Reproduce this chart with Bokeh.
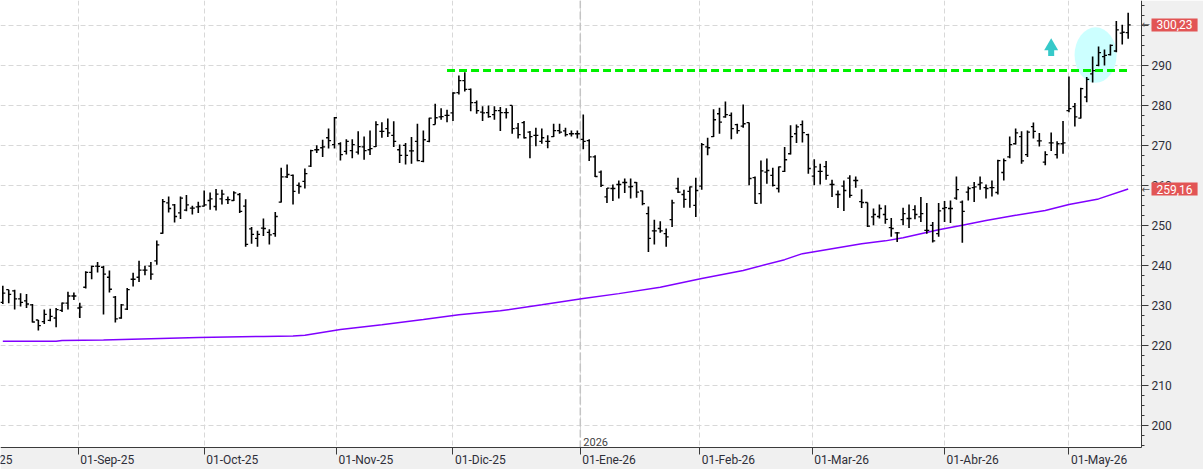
import numpy as np
import pandas as pd
from bokeh.plotting import figure
from bokeh.models import (FixedTicker, SingleIntervalTicker, Range1d, Label, Span,
                          ColumnDataSource, CustomJSTickFormatter, BoxAnnotation)
from bokeh.embed import file_html
from bokeh.resources import INLINE

# ---------------- data ----------------
holidays = ["2025-09-01", "2025-11-27", "2025-12-25", "2026-01-01",
            "2026-01-19", "2026-02-16", "2026-04-03"]
calendar_start = "2025-08-01"
first_date = "2025-08-13"
last_date = "2026-05-15"

opens = [230.8, 234.0, 233.7, 231.7, 231.2, 230.2, 226.4, 226.0, 226.3, 226.9,
         228.8, 230.6, 232.4, 229.4, 234.6, 238.3, 239.9, 239.6, 237.1, 232.1,
         226.9, 229.1, 236.6, 237.1, 238.9, 239.9, 241.2, 248.1, 255.7, 255.2,
         253.2, 253.9, 254.4, 254.7, 254.9, 256.3, 254.8, 256.7, 256.5, 256.3,
         257.8, 254.9, 249.2, 246.8, 249.4, 248.3, 248.0, 255.9, 262.2, 262.6,
         260.1, 261.1, 264.9, 269.0, 269.5, 272.0, 270.3, 270.5, 268.6, 268.8,
         268.4, 269.7, 269.0, 269.8, 273.6, 274.3, 272.6, 269.0, 270.1, 268.7,
         271.1, 266.1, 271.1, 275.3, 277.2, 277.6, 278.2, 283.3, 286.3, 284.1,
         280.8, 278.4, 278.3, 277.8, 278.8, 278.3, 280.1, 274.4, 275.8, 273.4,
         272.6, 271.1, 271.1, 272.3, 273.8, 273.7, 273.0, 273.0, 271.6, 271.3,
         267.2, 263.4, 257.2, 259.3, 260.3, 260.8, 259.7, 260.8, 258.7, 253.0,
         248.7, 249.3, 248.0, 251.5, 259.3, 257.8, 258.6, 255.1, 259.9, 269.7,
         272.3, 278.0, 277.2, 277.6, 275.3, 274.9, 275.8, 262.0, 258.0, 263.4,
         262.6, 259.3, 263.6, 268.0, 273.0, 275.3, 272.8, 262.4, 263.6, 264.8,
         260.3, 257.8, 259.9, 261.9, 261.3, 256.0, 255.8, 252.2, 252.3, 252.8,
         249.5, 248.2, 251.5, 251.8, 254.0, 252.2, 248.8, 250.1, 248.0, 254.3,
         254.3, 256.9, 255.9, 258.4, 259.5, 260.3, 259.5, 259.5, 258.3, 263.3,
         267.2, 270.5, 272.3, 267.8, 274.8, 271.2, 265.9, 270.7, 267.8, 270.5,
         278.8, 279.8, 276.9, 282.2, 288.0, 290.1, 292.3, 292.8, 293.7, 298.2, 298.3]

highs = [235.0, 234.0, 234.0, 233.1, 232.9, 230.4, 226.4, 229.0, 229.2, 229.4,
         230.8, 233.5, 233.3, 230.7, 238.6, 240.0, 240.9, 240.0, 238.8, 232.4,
         230.4, 234.4, 238.2, 241.2, 240.0, 240.9, 246.3, 256.7, 257.3, 255.4,
         257.3, 257.7, 255.0, 256.0, 258.8, 258.3, 259.2, 259.0, 257.3, 258.6,
         258.2, 256.6, 249.7, 248.7, 251.8, 249.1, 253.4, 264.5, 265.3, 262.8,
         260.8, 264.3, 269.0, 270.1, 271.5, 274.3, 277.2, 270.9, 271.6, 271.6,
         273.6, 272.3, 273.8, 276.1, 275.9, 276.8, 276.1, 270.3, 270.7, 272.2,
         275.5, 273.8, 277.0, 280.5, 279.4, 279.0, 283.4, 287.6, 288.4, 284.3,
         281.3, 279.9, 280.1, 279.9, 279.7, 279.4, 280.1, 275.7, 276.2, 273.7,
         274.5, 274.3, 272.6, 275.5, 275.5, 274.5, 273.8, 273.8, 277.8, 271.6,
         267.6, 263.8, 259.4, 260.3, 261.3, 261.8, 261.8, 260.9, 258.8, 254.8,
         251.5, 251.1, 249.3, 256.5, 262.0, 259.0, 259.8, 262.0, 270.7, 272.0,
         279.1, 279.5, 281.1, 278.3, 275.5, 280.3, 275.8, 262.3, 266.3, 266.8,
         264.5, 264.8, 269.7, 275.1, 275.3, 276.3, 273.0, 266.6, 265.5, 266.2,
         261.5, 258.8, 261.3, 262.6, 262.3, 259.1, 255.8, 254.3, 255.3, 255.1,
         251.9, 248.4, 254.5, 255.3, 255.1, 257.2, 255.7, 250.9, 255.7, 256.2,
         256.3, 262.3, 256.3, 259.8, 260.9, 262.3, 260.3, 261.3, 266.5, 266.8,
         272.3, 274.3, 273.6, 273.8, 275.8, 273.2, 268.6, 273.3, 271.1, 276.2,
         287.3, 280.7, 284.5, 287.2, 292.3, 294.8, 294.1, 295.3, 301.2, 300.3, 303.3]

lows = [230.4, 230.6, 229.0, 229.8, 229.4, 225.8, 223.8, 225.4, 226.1, 224.6,
        228.4, 229.0, 231.4, 226.9, 234.3, 236.6, 238.3, 227.8, 233.3, 225.8,
        226.7, 228.9, 234.8, 235.9, 237.6, 236.5, 240.2, 248.0, 253.3, 250.8,
        251.7, 253.6, 252.8, 253.2, 254.8, 254.0, 253.8, 255.3, 255.4, 256.2,
        253.2, 244.7, 245.5, 244.7, 247.4, 245.3, 247.2, 255.8, 261.9, 255.3,
        258.0, 259.3, 264.7, 268.2, 267.2, 269.3, 269.3, 266.3, 267.8, 266.9,
        267.8, 266.5, 267.7, 269.7, 272.0, 272.2, 269.7, 265.7, 265.3, 265.5,
        266.1, 265.9, 270.9, 275.3, 276.5, 275.9, 276.2, 282.8, 283.6, 278.6,
        278.0, 276.2, 277.0, 276.5, 273.7, 276.8, 273.0, 271.8, 271.8, 266.9,
        269.9, 270.5, 269.4, 272.2, 273.0, 272.3, 272.3, 271.8, 269.1, 266.2,
        262.2, 259.7, 255.7, 256.2, 256.8, 258.2, 256.8, 257.0, 255.1, 243.4,
        245.3, 248.2, 244.7, 249.7, 258.2, 254.5, 254.5, 252.2, 259.0, 267.6,
        272.2, 273.0, 277.0, 271.6, 273.0, 274.5, 260.1, 255.5, 255.5, 260.5,
        259.8, 258.3, 263.4, 267.8, 270.7, 270.8, 263.0, 260.1, 260.3, 261.5,
        257.2, 254.4, 253.7, 257.0, 259.5, 254.4, 249.7, 250.1, 251.8, 250.5,
        247.2, 245.9, 250.1, 249.4, 251.6, 250.9, 248.0, 245.8, 247.2, 250.9,
        250.7, 256.5, 245.7, 256.3, 255.9, 259.0, 256.8, 257.3, 257.8, 261.3,
        266.9, 270.3, 265.5, 267.2, 271.8, 269.8, 265.1, 268.7, 266.8, 268.0,
        278.4, 274.8, 276.8, 280.9, 285.8, 289.9, 290.1, 292.6, 293.4, 295.3, 296.8]

closes = [233.1, 232.8, 231.7, 230.8, 230.4, 225.9, 225.0, 227.8, 227.3, 229.0,
          230.6, 232.4, 232.4, 229.6, 238.3, 239.8, 239.8, 237.9, 234.1, 226.7,
          230.2, 234.0, 236.6, 238.9, 238.9, 237.9, 245.2, 256.0, 254.3, 252.3,
          256.9, 255.2, 254.4, 254.8, 255.2, 256.7, 257.9, 257.9, 256.5, 258.2,
          253.6, 245.3, 247.8, 247.8, 249.3, 247.7, 252.3, 262.2, 262.8, 258.6,
          259.8, 263.0, 268.8, 269.0, 269.7, 271.3, 277.0, 267.8, 271.1, 270.3,
          269.8, 268.8, 269.3, 275.3, 273.6, 273.2, 271.1, 267.6, 267.6, 268.7,
          266.3, 271.5, 276.9, 277.0, 277.3, 277.6, 283.2, 286.3, 284.1, 280.8,
          278.8, 278.2, 277.3, 278.8, 278.3, 278.3, 274.3, 272.8, 272.0, 272.3,
          272.6, 272.0, 271.1, 273.8, 273.4, 272.8, 273.0, 273.0, 271.1, 267.2,
          262.3, 260.1, 259.4, 259.3, 260.3, 260.8, 259.8, 258.4, 255.5, 246.8,
          248.7, 248.7, 247.2, 255.7, 258.4, 256.6, 259.7, 258.8, 270.3, 269.5,
          276.5, 275.9, 277.8, 274.3, 273.8, 275.5, 261.8, 255.6, 263.7, 263.8,
          260.1, 264.7, 266.5, 272.3, 274.7, 273.3, 264.3, 264.7, 263.6, 262.6,
          260.3, 257.8, 258.8, 257.6, 261.3, 255.8, 249.9, 252.8, 254.3, 251.6,
          249.3, 248.2, 253.0, 251.8, 252.8, 253.0, 248.8, 246.2, 253.7, 254.5,
          254.3, 259.0, 253.6, 259.3, 259.7, 260.7, 259.3, 259.5, 266.3, 266.3,
          270.3, 273.2, 266.2, 273.4, 273.6, 271.2, 267.8, 270.7, 270.5, 270.7,
          279.3, 277.2, 284.3, 286.6, 288.8, 293.3, 292.6, 295.1, 299.0, 298.4, 300.23]

# moving average (purple line), read at selected bars (bar number counted from first_date)
ma_bar = [0, 9, 10, 17, 25, 33, 44, 49, 51, 57,
          64, 71, 77, 84, 91, 98, 104, 111, 118, 125,
          132, 135, 139, 145, 149, 152, 155, 158, 162, 166,
          171, 176, 180, 185, 190]
ma_values = [221.1, 221.1, 221.3, 221.4, 221.7, 222.0, 222.3, 222.4, 222.6, 224.0,
             225.2, 226.5, 227.7, 228.7, 230.2, 231.8, 233.0, 234.6, 236.8, 238.8,
             241.5, 243.0, 244.0, 245.5, 246.2, 247.0, 248.0, 249.0, 250.1, 251.3,
             252.6, 253.8, 255.3, 256.7, 259.16]

tick_dates = ["2025-08-01", "2025-09-01", "2025-10-01", "2025-11-01", "2025-12-01",
              "2026-01-01", "2026-02-01", "2026-03-01", "2026-04-01", "2026-05-01"]
tick_labels = ["01-Ago-25", "01-Sep-25", "01-Oct-25", "01-Nov-25", "01-Dic-25",
               "01-Ene-26", "01-Feb-26", "01-Mar-26", "01-Abr-26", "01-May-26"]
year_date = "2026-01-01"
year_label = "2026"

resistance_level = 288.8
resistance_from = "2025-11-28"

# breakout highlight (ellipse) and signal arrow, in bar / price units
highlight_bar, highlight_price, highlight_w, highlight_h = 184.5, 292.7, 7.1, 13.9
signal_bar, signal_price = 177.0, 294.9

# ---------------- helpers ----------------
cal = pd.bdate_range(calendar_start, last_date)
cal = cal[~cal.isin(pd.to_datetime(holidays))]
i0 = cal.get_loc(pd.Timestamp(first_date))
dates = cal[i0:]
n = len(closes)
assert len(opens) == n and len(highs) == n and len(lows) == n and len(dates) == n


def date_pos(d):
    t = pd.Timestamp(d).value
    return float(np.interp(t, cal.asi8, np.arange(len(cal)))) - i0


x = np.arange(n, dtype=float)
month_pos = [date_pos(d) for d in tick_dates]
year_pos = date_pos(year_date)
res_start = date_pos(resistance_from)

# view: price panel spans bars -0.39 .. 192.25 and prices 194.5 .. 306.34,
# the canvas continues to the right / below for the axis bands
X0, X_AXIS = -0.39, 192.25
Y_TOP, Y_AXIS = 306.34, 194.5
PX_PER_BAR = 1141 / (X_AXIS - X0)
PX_PER_UNIT = 447 / (Y_TOP - Y_AXIS)
x_end = X0 + 1203 / PX_PER_BAR
y_start = Y_TOP - 469 / PX_PER_UNIT

FONT = "Roboto"
AXIS_COLOR = "#3a3a3a"
TEXT_COLOR = "#2e2e38"
BAND = "#f0f0f0"

p = figure(width=1203, height=469, output_backend="svg", toolbar_location=None,
           x_range=Range1d(X0, x_end), y_range=Range1d(y_start, Y_TOP),
           y_axis_location="right", min_border=0,
           min_border_left=0, min_border_top=0, min_border_right=0, min_border_bottom=0)
p.background_fill_color = "white"
p.border_fill_color = BAND
p.outline_line_color = None

# axes drawn at the panel edges
p.xaxis.fixed_location = Y_AXIS
p.xaxis.bounds = (X0, X_AXIS)
p.xaxis.ticker = FixedTicker(ticks=month_pos)
p.xaxis.formatter = CustomJSTickFormatter(code="return ''")
p.xaxis.axis_line_color = AXIS_COLOR
p.xaxis.major_tick_line_color = AXIS_COLOR
p.xaxis.major_tick_in = 0
p.xaxis.major_tick_out = 7
p.xaxis.minor_tick_line_color = None

p.yaxis.fixed_location = X_AXIS
p.yaxis.bounds = (Y_AXIS, Y_TOP)
p.yaxis.ticker = SingleIntervalTicker(interval=10, num_minor_ticks=4)
p.yaxis.axis_line_color = AXIS_COLOR
p.yaxis.major_tick_line_color = AXIS_COLOR
p.yaxis.minor_tick_line_color = AXIS_COLOR
p.yaxis.major_tick_in = 0
p.yaxis.major_tick_out = 7
p.yaxis.minor_tick_in = 0
p.yaxis.minor_tick_out = 3
p.yaxis.major_label_standoff = 3
p.yaxis.major_label_text_font = FONT
p.yaxis.major_label_text_font_size = "12px"
p.yaxis.major_label_text_color = TEXT_COLOR

p.xgrid.grid_line_color = "#d8d8d8"
p.xgrid.grid_line_dash = "5 3"
p.ygrid.grid_line_color = "#d8d8d8"
p.ygrid.grid_line_dash = "5 3"

# year separator (under the bands)
p.add_layout(Span(location=year_pos, dimension="height", line_color="#c4c4c4",
                  line_dash="8 3", line_width=1.5, level="underlay"))

# grey axis bands
p.add_layout(BoxAnnotation(left=X_AXIS, fill_color=BAND, fill_alpha=1,
                           line_color=None, level="underlay"))
p.add_layout(BoxAnnotation(top=Y_AXIS, fill_color=BAND, fill_alpha=1,
                           line_color=None, level="underlay"))

# highlight ellipse
p.ellipse(x=[highlight_bar], y=[highlight_price], width=highlight_w, height=highlight_h,
          fill_color="#ccffff", line_color=None)

# moving average
p.line(x=ma_bar, y=ma_values, line_color="#8000ff", line_width=1.5)

# resistance line
p.line(x=[res_start, x[-1]], y=[resistance_level, resistance_level],
       line_color="#00f000", line_width=3, line_dash="8 4")

# OHLC bars
src = ColumnDataSource(dict(x=x, o=opens, h=highs, l=lows, c=closes,
                            xl=x - 0.42, xr=x + 0.42))
p.segment(x0="x", y0="l", x1="x", y1="h", source=src, line_color="black", line_width=1.6)
p.segment(x0="xl", y0="o", x1="x", y1="o", source=src, line_color="black", line_width=1.3)
p.segment(x0="x", y0="c", x1="xr", y1="c", source=src, line_color="black", line_width=1.3)

# signal arrow
p.rect(x=[signal_bar], y=[signal_price - 1.7], width=6, height=6,
       width_units="screen", height_units="screen", fill_color="#36c9c9", line_color=None)
p.scatter(x=[signal_bar], y=[signal_price], marker="triangle", size=14,
          fill_color="#36c9c9", line_color=None)

# bottom date labels, left-aligned at their tick
for pos, txt in zip(month_pos, tick_labels):
    p.add_layout(Label(x=pos, y=10, x_units="data", y_units="screen", text=txt,
                       x_offset=2, text_align="left", text_baseline="middle",
                       text_font=FONT, text_font_size="12px", text_color=TEXT_COLOR))

p.add_layout(Label(x=year_pos, y=Y_AXIS, x_units="data", y_units="data", text=year_label,
                   x_offset=3, y_offset=2, text_align="left", text_baseline="bottom",
                   text_font=FONT, text_font_size="11px", text_color="#444444"))

# price tags on the right axis
for val in (closes[-1], ma_values[-1]):
    txt = f"{val:.2f}".replace(".", ",")
    p.add_layout(Label(x=1151, y=val, x_units="screen", y_units="data", text=txt,
                       text_align="left", text_baseline="middle", text_font=FONT,
                       text_font_size="12px", text_color="white",
                       background_fill_color="#e25555", padding=(5, 2)))
    p.add_layout(Label(x=1141, y=val, x_units="screen", y_units="data", text="\u2190",
                       text_align="left", text_baseline="middle", text_font="DejaVu Sans",
                       text_font_size="10px", text_color="#555555"))

open("out.html", "w").write(file_html(p, INLINE))
